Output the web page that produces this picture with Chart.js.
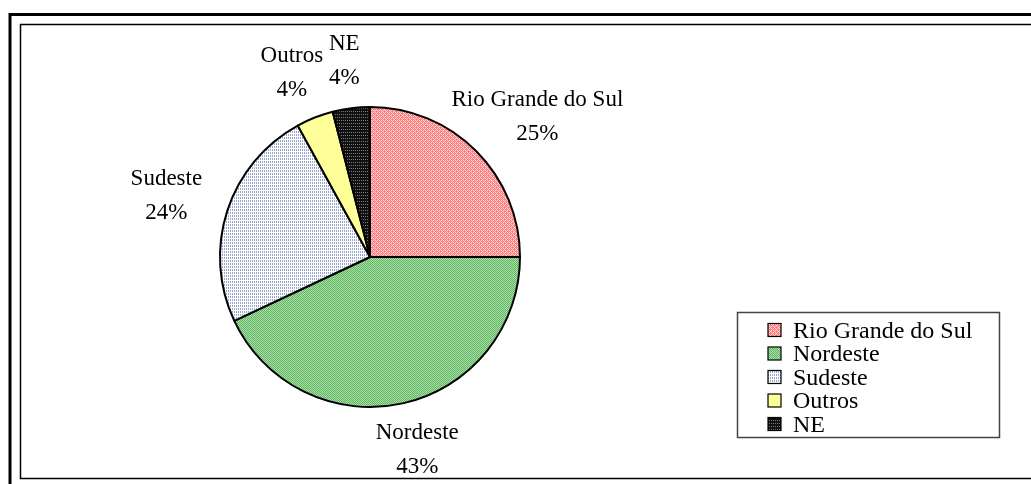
<!DOCTYPE html>
<html>
<head>
<meta charset="utf-8">
<script src="https://cdn.jsdelivr.net/npm/chart.js@4.4.1/dist/chart.umd.min.js"></script>
<style>
  html, body { margin: 0; padding: 0; background: #fff; }
  canvas { display: block; }
</style>
</head>
<body>
<canvas id="chart" width="1031" height="484"></canvas>
<script>
// Regions and their share (%)
const categories = ['Rio Grande do Sul', 'Nordeste', 'Sudeste', 'Outros', 'NE'];
const shares = [25, 43, 24, 4, 4];

// small repeating fills, like the hatched Excel patterns
function makePattern(colors, rows) {
    const c = document.createElement('canvas');
    c.width = rows[0].length;
    c.height = rows.length;
    const g = c.getContext('2d');
    rows.forEach((row, y) => {
        for (let x = 0; x < row.length; x++) {
            g.fillStyle = colors[row[x]];
            g.fillRect(x, y, 1, 1);
        }
    });
    return g.createPattern(c, 'repeat');
}

const fills = [
    makePattern({a: '#ff7f7f', b: '#ffd6d6'}, ['abab', 'baaa', 'abab', 'aaba']),
    makePattern({a: '#62b862', b: '#a9dca9'}, ['abab', 'baba', 'abab', 'baba']),
    makePattern({a: '#ffffff', b: '#9aa8d0'}, ['ba', 'aa', 'ba']),
    '#ffff99',
    makePattern({a: '#111111', b: '#7a7a7a'}, ['ab', 'aa', 'aa'])
];

const serif = '"Liberation Serif", "Times New Roman", serif';

// outer frame of the sheet
const framePlugin = {
    id: 'frame',
    beforeDraw(chart) {
        const ctx = chart.ctx;
        ctx.save();
        ctx.fillStyle = '#fff';
        ctx.fillRect(0, 0, chart.width, chart.height);
        ctx.strokeStyle = '#000';
        ctx.lineWidth = 3;
        ctx.beginPath();
        ctx.moveTo(10, chart.height + 5);
        ctx.lineTo(10, 14.5);
        ctx.lineTo(chart.width + 5, 14.5);
        ctx.stroke();
        ctx.lineWidth = 1.5;
        ctx.strokeRect(20.5, 24.5, chart.width + 20, 454);
        ctx.restore();
    }
};

// category + percent labels outside each slice
const sliceLabels = {
    id: 'sliceLabels',
    afterDatasetsDraw(chart) {
        const ctx = chart.ctx;
        const meta = chart.getDatasetMeta(0);
        ctx.save();
        ctx.font = '23px ' + serif;
        ctx.fillStyle = '#000';
        ctx.textAlign = 'center';
        ctx.textBaseline = 'middle';
        meta.data.forEach((arc, i) => {
            const p = arc.getProps(['x', 'y', 'startAngle', 'endAngle', 'outerRadius'], true);
            const mid = (p.startAngle + p.endAngle) / 2;
            const name = categories[i];
            const w = ctx.measureText(name).width;
            const d = p.outerRadius + 48;
            const cx = p.x + Math.cos(mid) * d + Math.cos(mid) * w / 2 * 0.45;
            const cy = p.y + Math.sin(mid) * d;
            ctx.fillText(name, cx, cy - 17);
            ctx.fillText(shares[i] + '%', cx, cy + 17);
        });
        ctx.restore();
    }
};

// boxed legend at lower right
const boxLegend = {
    id: 'boxLegend',
    afterDraw(chart) {
        const ctx = chart.ctx;
        const left = 737.5, top = 312.5, width = 262, height = 125;
        ctx.save();
        ctx.strokeStyle = '#444';
        ctx.lineWidth = 1.5;
        ctx.strokeRect(left, top, width, height);
        ctx.font = '24px ' + serif;
        ctx.textBaseline = 'middle';
        ctx.textAlign = 'left';
        categories.forEach((name, i) => {
            const y = top + 18 + i * 23.5;
            ctx.fillStyle = fills[i];
            ctx.fillRect(768, y - 7, 13, 13);
            ctx.strokeStyle = '#000';
            ctx.lineWidth = 1.2;
            ctx.strokeRect(768, y - 7, 13, 13);
            ctx.fillStyle = '#000';
            ctx.fillText(name, 793, y + 1);
        });
        ctx.restore();
    }
};

const ctx = document.getElementById('chart').getContext('2d');
window.regionChart = new Chart(ctx, {
    type: 'pie',
    data: {
        labels: categories,
        datasets: [{
            data: shares,
            backgroundColor: fills,
            borderColor: '#000',
            borderWidth: 2
        }]
    },
    options: {
        responsive: false,
        animation: false,
        radius: 150,
        layout: {
            padding: {left: 220, right: 511, top: 107, bottom: 77}
        },
        plugins: {
            legend: {display: false},
            tooltip: {enabled: false}
        }
    },
    plugins: [framePlugin, sliceLabels, boxLegend]
});
</script>
</body>
</html>
